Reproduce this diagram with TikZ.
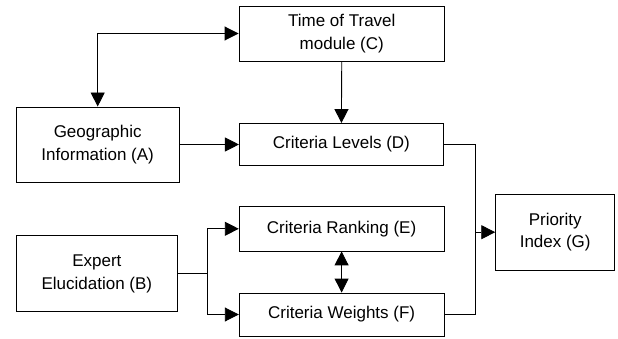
\documentclass[tikz,border=0pt]{standalone}
\usepackage{fontspec}
\setmainfont{Liberation Sans}
\usetikzlibrary{arrows.meta}
\begin{document}
\begin{tikzpicture}[x=1pt,y=-1pt,
 box/.style={draw, line width=0.9pt, inner sep=0pt, align=center, font=\fontsize{17}{22.5}\selectfont},
 arr/.style={line width=0.9pt, -{Triangle[length=14pt,width=14pt]}},
 darr/.style={line width=0.9pt, {Triangle[length=14pt,width=14pt]}-{Triangle[length=14pt,width=14pt]}},
 ln/.style={line width=0.9pt}]
\useasboundingbox (0,0) rectangle (618,339);
\node[box, minimum width=205.5pt, minimum height=55pt] (C) at (341.75,33.5) {Time of Travel\\module (C)};
\node[box, minimum width=163.3pt, minimum height=75pt] (A) at (97.7,144.5) {Geographic\\Information (A)};
\node[box, minimum width=204pt, minimum height=41.5pt] (D) at (341.4,144.25) {Criteria Levels (D)};
\node[box, minimum width=204.7pt, minimum height=44.3pt] (E) at (341.6,228.8) {Criteria Ranking (E)};
\node[box, minimum width=204.7pt, minimum height=43pt] (F) at (341.6,314.5) {Criteria Weights (F)};
\node[box, minimum width=161.7pt, minimum height=76pt] (B) at (96.9,273.7) {Expert\\Elucidation (B)};
\node[box, minimum width=119pt, minimum height=75.7pt] (G) at (555.2,232.2) {Priority\\Index (G)};
\coordinate (bj) at (207,273.7);
\coordinate (gj) at (475,232.2);
\draw[darr] (A.north) |- (C.west);
\draw[arr] (C.south) -- (D.north);
\draw[arr] (A.east) -- (A.east -| D.west);
\draw[ln] (B.east) -- (bj);
\draw[arr] (bj) |- (E.west);
\draw[arr] (bj) |- (F.west);
\draw[darr] (E.south) -- (F.north);
\draw[ln] (D.east) -| (gj);
\draw[ln] (F.east) -| (gj);
\draw[arr] (gj) -- (G.west);
\end{tikzpicture}
\end{document}
